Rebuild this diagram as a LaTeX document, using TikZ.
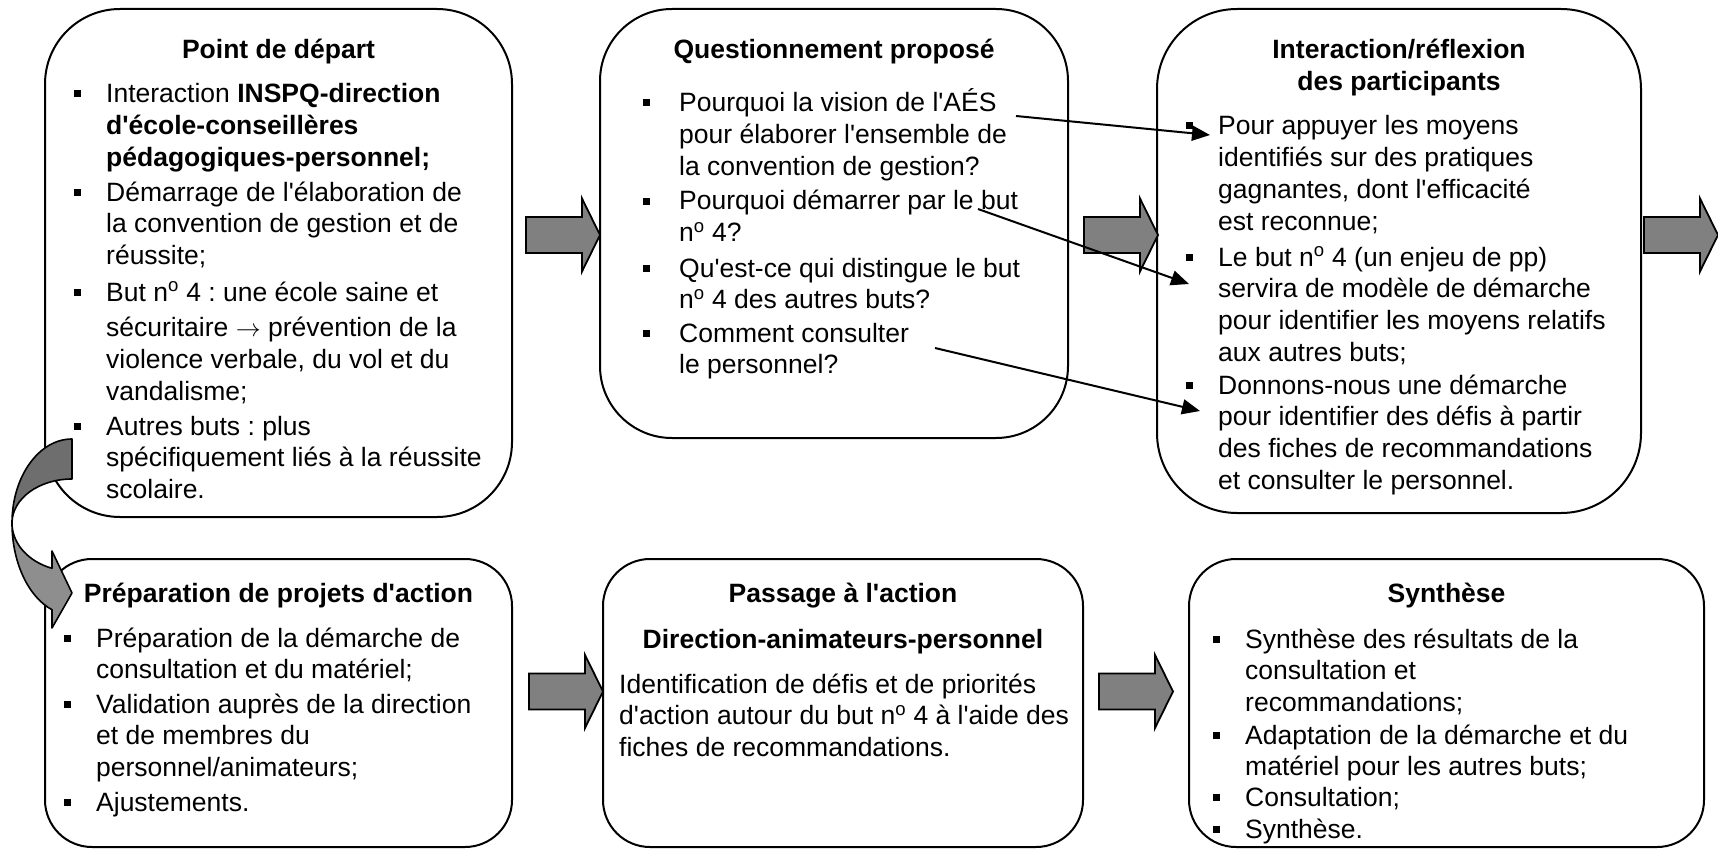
\documentclass[tikz,border=0pt]{standalone}
\usepackage{fontspec}
\newfontfamily\arialfam{Liberation Sans}
\usetikzlibrary{arrows.meta}

\definecolor{arrowgray}{HTML}{808080}
\definecolor{backgray}{HTML}{6E6E6E}
\definecolor{frontgray}{HTML}{8E8E8E}

% body text: Arial-sized, fixed line pitch
\newcommand\bodyfont{\arialfam\fontsize{26.5pt}{31.7pt}\selectfont\frenchspacing}
% a block of lines whose baseline is the first line's baseline
\newcommand\rows[1]{\vtop{\lineskiplimit=-\maxdimen\halign{##\hfil\cr#1\crcr}}}
% square bullet hung to the left of the text
\newcommand\bul[1][25.5pt]{\llap{\raisebox{5.5pt}{\rule{7pt}{7pt}}\hspace{#1}}}
\newcommand\nsup{n\textsuperscript{o}}
\newcommand\thin{$\rightarrow$}

% grey block arrow, tail at (x,y) on its axis
\newcommand\blockarrow[2]{%
  \draw[bigarrow] (#1,#2-18) -- (#1+56,#2-18) -- (#1+56,#2-36.5) -- (#1+74,#2)
    -- (#1+56,#2+36.5) -- (#1+56,#2+18) -- (#1,#2+18) -- cycle;}

\begin{document}
\begin{tikzpicture}[x=1pt,y=-1pt,
  box/.style={draw=black, line width=2pt, rounded corners=#1, fill=white,
              inner sep=0pt, outer sep=0pt, anchor=north west},
  txt/.style={anchor=base west, inner sep=0pt, font=\bodyfont},
  ttl/.style={anchor=base, inner sep=0pt, font=\bodyfont\bfseries},
  bigarrow/.style={draw=black, line width=1.8pt, fill=arrowgray, line join=miter},
  link/.style={line width=2pt, -{Triangle[length=18pt,width=15pt]}},
  curved/.style={draw=black, line width=1.6pt, line join=round},
]
\useasboundingbox (0,0) rectangle (1718,853);

% ---- boxes ----
\node[box=75pt, minimum width=467pt, minimum height=508pt] (start)  at (45,9) {};
\node[box=72pt, minimum width=468pt, minimum height=429pt] (quest)  at (600,9) {};
\node[box=80pt, minimum width=484pt, minimum height=504pt] (inter)  at (1157,9) {};
\node[box=47pt, minimum width=467pt, minimum height=288pt] (prep)   at (45,559) {};
\node[box=47pt, minimum width=480pt, minimum height=288pt] (action) at (603,559) {};
\node[box=47pt, minimum width=515pt, minimum height=288pt] (synth)  at (1189,559) {};

% ---- Point de départ ----
\node[ttl] (startT) at (278.5,59) {Point de départ};
\node[txt] (s1) at (106,103) {\rows{\bul Interaction \textbf{INSPQ-direction}\cr
  \textbf{d'école-conseillères}\cr \textbf{pédagogiques-personnel;}}};
\node[txt] (s2) at (106,201) {\rows{\bul Démarrage de l'élaboration de\cr
  la convention de gestion et de\cr réussite;}};
\node[txt] (s3) at (106,301) {\rows{\bul But \nsup{} 4 : une école saine et\cr
  \noalign{\vskip4pt}sécuritaire \thin{} prévention de la\cr
  violence verbale, du vol et du\cr vandalisme;}};
\node[txt] (s4) at (106,435) {\rows{\bul Autres buts : plus\cr
  spécifiquement liés à la réussite\cr scolaire.}};

% ---- Questionnement proposé ----
\node[ttl] (questT) at (834,59) {Questionnement proposé};
\node[txt] (q1) at (679,112) {\rows{\bul[29.5pt]Pourquoi la vision de l'AÉS\cr
  pour élaborer l'ensemble de\cr la convention de gestion?}};
\node[txt] (q2) at (679,210) {\rows{\bul[29.5pt]Pourquoi démarrer par le but\cr \nsup{} 4?}};
\node[txt] (q3) at (679,277) {\rows{\bul[29.5pt]Qu'est-ce qui distingue le but\cr
  \nsup{} 4 des autres buts?}};
\node[txt] (q4) at (679,342) {\rows{\bul[29.5pt]Comment consulter\cr le personnel?}};

% ---- Interaction/réflexion des participants ----
\node[ttl] (interT1) at (1399,59) {Interaction/réflexion};
\node[ttl] (interT2) at (1399,91) {des participants};
\node[txt] (r1) at (1218,135) {\rows{\bul Pour appuyer les moyens\cr
  identifiés sur des pratiques\cr gagnantes, dont l'efficacité\cr est reconnue;}};
\node[txt] (r2) at (1218,266) {\rows{\bul Le but \nsup{} 4 (un enjeu de pp)\cr
  servira de modèle de démarche\cr pour identifier les moyens relatifs\cr aux autres buts;}};
\node[txt] (r3) at (1218,394) {\rows{\bul Donnons-nous une démarche\cr
  pour identifier des défis à partir\cr des fiches de recommandations\cr
  et consulter le personnel.}};

% ---- Préparation de projets d'action ----
\node[ttl] (prepT) at (278.5,602) {Préparation de projets d'action};
\node[txt] (p1) at (96,647) {\rows{\bul Préparation de la démarche de\cr
  consultation et du matériel;}};
\node[txt] (p2) at (96,713) {\rows{\bul Validation auprès de la direction\cr
  et de membres du\cr personnel/animateurs;}};
\node[txt] (p3) at (96,811) {\rows{\bul Ajustements.}};

% ---- Passage à l'action ----
\node[ttl] (actionT1) at (843,602) {Passage à l'action};
\node[ttl] (actionT2) at (843,648) {Direction-animateurs-personnel};
\node[txt] (a1) at (619,693) {\rows{Identification de défis et de priorités\cr
  d'action autour du but \nsup{} 4 à l'aide des\cr fiches de recommandations.}};

% ---- Synthèse ----
\node[ttl] (synthT) at (1446.5,602) {Synthèse};
\node[txt] (y1) at (1245,648) {\rows{\bul Synthèse des résultats de la\cr
  consultation et\cr recommandations;}};
\node[txt] (y2) at (1245,744) {\rows{\bul Adaptation de la démarche et du\cr
  matériel pour les autres buts;}};
\node[txt] (y3) at (1245,806) {\rows{\bul Consultation;}};
\node[txt] (y4) at (1245,838) {\rows{\bul Synthèse.}};

% ---- block arrows between the stages ----
\blockarrow{526}{235}
\blockarrow{1084}{235}
\blockarrow{1644}{235}
\blockarrow{529}{691.5}
\blockarrow{1099}{691.5}

% ---- links from the questions to the answers ----
\coordinate (qa1) at (1016,116);  \coordinate (ra1) at (1210,135);
\coordinate (qa2) at (978,209);   \coordinate (ra2) at (1189,284);
\coordinate (qa3) at (935,348);   \coordinate (ra3) at (1200,411);
\draw[link] (qa1) -- (ra1);
\draw[link] (qa2) -- (ra2);
\draw[link] (qa3) -- (ra3);

% ---- curved arrow from the first stage down to the preparation ----
\path[curved, fill=frontgray] (12,523)
  arc[start angle=180, end angle=109.47, x radius=60, y radius=92]
  -- (52,628) -- (72,593) -- (52,551) -- (52,568.3)
  arc[start angle=109.47, end angle=180, x radius=60, y radius=48] -- cycle;
\path[curved, fill=backgray] (72,439)
  arc[start angle=270, end angle=180, x radius=60, y radius=84]
  arc[start angle=180, end angle=270, x radius=60, y radius=44] -- cycle;
\end{tikzpicture}
\end{document}
